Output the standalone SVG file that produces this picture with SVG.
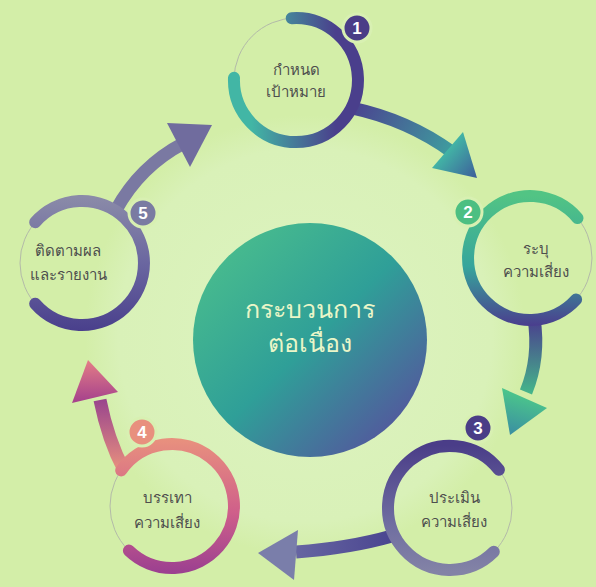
<svg xmlns="http://www.w3.org/2000/svg" width="596" height="587" viewBox="0 0 596 587">
<defs>
<radialGradient id="bgGlow" cx="305" cy="335" r="220" gradientUnits="userSpaceOnUse">
<stop offset="0" stop-color="#ddf3c0"/><stop offset="0.85" stop-color="#d9f1b8"/><stop offset="1" stop-color="#d3eea8"/>
</radialGradient>
<linearGradient id="gCenter" x1="205" y1="235" x2="415" y2="450" gradientUnits="userSpaceOnUse">
<stop offset="0" stop-color="#4cc08c"/><stop offset="0.5" stop-color="#2f9f98"/><stop offset="1" stop-color="#5a4a9e"/>
</linearGradient>
<linearGradient id="gN1" x1="232" y1="0" x2="362" y2="0" gradientUnits="userSpaceOnUse">
<stop offset="0.15" stop-color="#42b6a5"/><stop offset="0.8" stop-color="#4a3f8c"/>
</linearGradient>
<linearGradient id="gN2" x1="0" y1="195" x2="0" y2="325" gradientUnits="userSpaceOnUse">
<stop offset="0" stop-color="#52c484"/><stop offset="0.55" stop-color="#36a59c"/><stop offset="1" stop-color="#4a3f8e"/>
</linearGradient>
<linearGradient id="gN3" x1="0" y1="445" x2="0" y2="572" gradientUnits="userSpaceOnUse">
<stop offset="0" stop-color="#4a3d88"/><stop offset="0.6" stop-color="#6e6ca0"/><stop offset="1" stop-color="#8383a6"/>
</linearGradient>
<linearGradient id="gN4" x1="0" y1="440" x2="0" y2="572" gradientUnits="userSpaceOnUse">
<stop offset="0" stop-color="#e8907e"/><stop offset="0.55" stop-color="#cf5f8a"/><stop offset="1" stop-color="#9c4090"/>
</linearGradient>
<linearGradient id="gN5" x1="0" y1="198" x2="0" y2="330" gradientUnits="userSpaceOnUse">
<stop offset="0" stop-color="#8a8aa8"/><stop offset="0.5" stop-color="#6a66a0"/><stop offset="1" stop-color="#4a408c"/>
</linearGradient>
<linearGradient id="gA1" x1="355" y1="108" x2="470" y2="170" gradientUnits="userSpaceOnUse">
<stop offset="0" stop-color="#4a4590"/><stop offset="1" stop-color="#3cb2a2"/>
</linearGradient>
<linearGradient id="gA1h" x1="445" y1="150" x2="477" y2="178" gradientUnits="userSpaceOnUse">
<stop offset="0" stop-color="#42b8a6"/><stop offset="1" stop-color="#3d5c9a"/>
</linearGradient>
<linearGradient id="gA2" x1="0" y1="320" x2="0" y2="400" gradientUnits="userSpaceOnUse">
<stop offset="0" stop-color="#4a3f8e"/><stop offset="1" stop-color="#44c08a"/>
</linearGradient>
<linearGradient id="gA2h" x1="522" y1="392" x2="510" y2="435" gradientUnits="userSpaceOnUse">
<stop offset="0" stop-color="#4cc88a"/><stop offset="1" stop-color="#3a8ea2"/>
</linearGradient>
<linearGradient id="gA3" x1="392" y1="0" x2="270" y2="0" gradientUnits="userSpaceOnUse">
<stop offset="0" stop-color="#4a4590"/><stop offset="1" stop-color="#6e6ea6"/>
</linearGradient>
<linearGradient id="gA4" x1="0" y1="470" x2="0" y2="395" gradientUnits="userSpaceOnUse">
<stop offset="0" stop-color="#e8907e"/><stop offset="1" stop-color="#94408e"/>
</linearGradient>
<linearGradient id="gA4h" x1="0" y1="400" x2="0" y2="360" gradientUnits="userSpaceOnUse">
<stop offset="0" stop-color="#a8448c"/><stop offset="1" stop-color="#e47e86"/>
</linearGradient>
</defs>
<style>
.ring{fill:none;stroke:#b3baa8;stroke-width:1}
.arc{fill:none;stroke-width:12;stroke-linecap:round}
.shaft{fill:none;stroke-width:13}
.lbl{font-family:"Noto Sans","DejaVu Sans",sans-serif;font-size:15px;fill:#4e4e4e;text-anchor:middle}
.ctr{font-family:"Noto Sans","DejaVu Sans",sans-serif;font-size:25px;font-weight:500;fill:#eaf6c8;text-anchor:middle}
.badge{stroke:#d8f0b2;stroke-width:3}
.num{font-family:"Liberation Sans",Arial,sans-serif;font-size:17px;font-weight:bold;fill:#ffffff;text-anchor:middle}
</style>
<rect width="596" height="587" fill="#d3eea8"/>
<circle cx="305" cy="335" r="225" fill="url(#bgGlow)"/>

<g id="connectors">
<path class="shaft" d="M352 108 Q408 120 452 152" stroke="url(#gA1)"/>
<polygon points="463,132 477,178 432,168" fill="url(#gA1h)"/>
<path class="shaft" d="M534 318 Q540 358 526 392" stroke="url(#gA2)"/>
<polygon points="502,388 547,408 510,435" fill="url(#gA2h)"/>
<path class="shaft" d="M392 536 Q350 548 296 552" stroke="url(#gA3)"/>
<polygon points="298,530 258,553 294,580" fill="#7a7eaa"/>
<path class="shaft" d="M124 470 Q108 440 100 400" stroke="url(#gA4)"/>
<polygon points="72,403 88,360 118,392" fill="url(#gA4h)"/>
<path class="shaft" d="M116 210 Q140 166 184 143" stroke="#7a79a2"/>
<polygon points="167,123 212,125 190,167" fill="#706c9e"/>
</g>

<g id="center">
<circle cx="310" cy="340" r="117" fill="url(#gCenter)"/>
<text class="ctr" x="310" y="318">กระบวนการ</text>
<text class="ctr" x="310" y="352">ต่อเนื่อง</text>
</g>

<g id="node1">
<circle class="ring" cx="296" cy="80" r="62"/>
<path class="arc" d="M291.7 18.2 A62 62 0 1 1 234 77.8" stroke="url(#gN1)"/>
<circle class="badge" cx="357" cy="28" r="14" fill="#4a3d87"/>
<text class="num" x="357" y="34">1</text>
<text class="lbl" x="296" y="75">กำหนด</text>
<text class="lbl" x="296" y="97">เป้าหมาย</text>
</g>

<g id="node2">
<circle class="ring" cx="530" cy="258" r="62"/>
<path class="arc" d="M577.5 218.1 A62 62 0 1 0 576.1 299.5" stroke="url(#gN2)"/>
<circle class="badge" cx="468" cy="212" r="14" fill="#4dbf82"/>
<text class="num" x="468" y="218">2</text>
<text class="lbl" x="536" y="254">ระบุ</text>
<text class="lbl" x="536" y="277">ความเสี่ยง</text>
</g>

<g id="node3">
<circle class="ring" cx="450" cy="508" r="62"/>
<path class="arc" d="M498.9 469.8 A62 62 0 1 0 493.8 551.8" stroke="url(#gN3)"/>
<circle class="badge" cx="478" cy="428" r="14" fill="#4a3d87"/>
<text class="num" x="478" y="434">3</text>
<text class="lbl" x="454" y="503">ประเมิน</text>
<text class="lbl" x="454" y="527">ความเสี่ยง</text>
</g>

<g id="node4">
<circle class="ring" cx="172" cy="506" r="62"/>
<path class="arc" d="M121.2 470.4 A62 62 0 1 1 128.9 550.6" stroke="url(#gN4)"/>
<circle class="badge" cx="142" cy="432" r="14" fill="#e8907e"/>
<text class="num" x="142" y="438">4</text>
<text class="lbl" x="167" y="503">บรรเทา</text>
<text class="lbl" x="167" y="528">ความเสี่ยง</text>
</g>

<g id="node5">
<circle class="ring" cx="82" cy="263" r="62"/>
<path class="arc" d="M35.2 222.3 A62 62 0 1 1 35.2 303.7" stroke="url(#gN5)"/>
<circle class="badge" cx="143" cy="213" r="14" fill="#7a7ba2"/>
<text class="num" x="143" y="219">5</text>
<text class="lbl" x="68" y="256">ติดตามผล</text>
<text class="lbl" x="68" y="280">และรายงาน</text>
</g>
</svg>
